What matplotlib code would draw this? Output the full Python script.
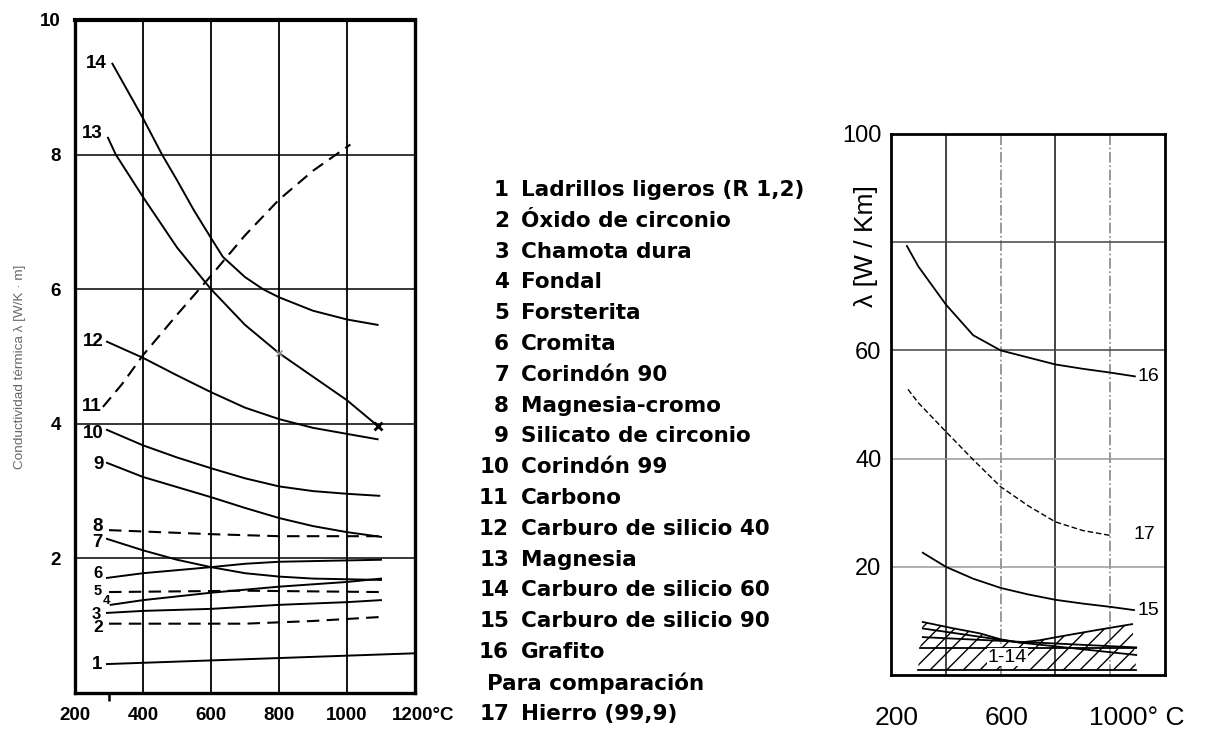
import numpy as np
import matplotlib
matplotlib.use("Agg")
import matplotlib.pyplot as plt
import matplotlib.transforms as mtransforms

# ---- left chart data: thermal conductivity of refractories, W/(K m) ----
c1_x = [294, 1200]
c1_y = [0.43, 0.59]
c2_x = [300, 500, 700, 900, 1100]
c2_y = [1.03, 1.03, 1.03, 1.07, 1.13]
c3_x = [294, 400, 600, 800, 1000, 1100]
c3_y = [1.19, 1.22, 1.25, 1.31, 1.35, 1.38]
c4_x = [305, 400, 600, 800, 1000, 1100]
c4_y = [1.31, 1.38, 1.49, 1.58, 1.65, 1.70]
c5_x = [300, 700, 1100]
c5_y = [1.50, 1.52, 1.50]
c6_x = [294, 400, 600, 700, 800, 1100]
c6_y = [1.71, 1.78, 1.87, 1.92, 1.95, 1.98]
c7_x = [294, 400, 500, 600, 700, 800, 900, 1100]
c7_y = [2.29, 2.12, 1.98, 1.87, 1.78, 1.73, 1.70, 1.68]
c8_x = [300, 400, 600, 800, 1100]
c8_y = [2.42, 2.40, 2.36, 2.33, 2.33]
c9_x = [294, 400, 500, 600, 700, 800, 900, 1000, 1100]
c9_y = [3.42, 3.21, 3.06, 2.91, 2.75, 2.60, 2.48, 2.39, 2.32]
c10_x = [294, 400, 500, 600, 700, 800, 900, 1000, 1095]
c10_y = [3.91, 3.68, 3.50, 3.34, 3.19, 3.07, 3.00, 2.96, 2.93]
c11_x = [282, 340, 400, 500, 600, 700, 800, 900, 1010]
c11_y = [4.25, 4.60, 5.02, 5.62, 6.20, 6.80, 7.33, 7.76, 8.15]
c12_x = [294, 400, 500, 600, 700, 800, 900, 1000, 1090]
c12_y = [5.22, 4.98, 4.72, 4.47, 4.24, 4.07, 3.94, 3.85, 3.77]
c13_x = [297, 320, 400, 500, 600, 700, 800, 900, 1000, 1090]
c13_y = [8.25, 8.00, 7.37, 6.62, 6.00, 5.47, 5.05, 4.70, 4.35, 3.97]
c14_x = [310, 400, 456, 500, 550, 600, 635, 700, 753, 800, 900, 1000, 1090]
c14_y = [9.35, 8.54, 8.00, 7.62, 7.17, 6.76, 6.48, 6.18, 6.00, 5.88, 5.68, 5.55, 5.47]

curves = [
    ("1", c1_x, c1_y, "-"), ("2", c2_x, c2_y, "--"), ("3", c3_x, c3_y, "-"),
    ("4", c4_x, c4_y, "-"), ("5", c5_x, c5_y, "--"), ("6", c6_x, c6_y, "-"),
    ("7", c7_x, c7_y, "-"), ("8", c8_x, c8_y, "--"), ("9", c9_x, c9_y, "-"),
    ("10", c10_x, c10_y, "-"), ("11", c11_x, c11_y, "--"), ("12", c12_x, c12_y, "-"),
    ("13", c13_x, c13_y, "-"), ("14", c14_x, c14_y, "-"),
]
# curve number label positions (right edge x, centre y) and sizes
lab_x = [279, 282, 276, 303, 278, 282, 282, 282, 285, 285, 279, 285, 282, 294]
lab_y = [0.43, 0.97, 1.17, 1.36, 1.52, 1.78, 2.23, 2.47, 3.39, 3.86, 4.25, 5.23, 8.32, 9.36]
lab_fs = [13.5, 12.5, 12, 9.5, 10.5, 12, 13.5, 13.5, 13.5, 13.5, 13.5, 13.5, 13.5, 13.5]

legend_nums = [str(i) for i in range(1, 17)] + ["", "17"]
legend_names = ["Ladrillos ligeros (R 1,2)", "Óxido de circonio", "Chamota dura",
                "Fondal", "Forsterita", "Cromita", "Corindón 90", "Magnesia-cromo",
                "Silicato de circonio", "Corindón 99", "Carbono",
                "Carburo de silicio 40", "Magnesia", "Carburo de silicio 60",
                "Carburo de silicio 90", "Grafito", "Para comparación", "Hierro (99,9)"]

# ---- right chart data ----
g16_x = [258, 300, 400, 500, 600, 700, 800, 900, 1000, 1090]
g16_y = [79.3, 75.5, 68.5, 62.8, 60.0, 58.7, 57.4, 56.6, 55.9, 55.2]
f17_x = [262, 300, 400, 500, 600, 700, 800, 900, 1000]
f17_y = [52.8, 50.3, 45.0, 39.8, 34.8, 31.3, 28.3, 26.7, 25.8]
s15_x = [316, 400, 500, 600, 700, 800, 900, 1000, 1087]
s15_y = [22.6, 20.0, 17.8, 16.1, 14.9, 13.9, 13.2, 12.6, 12.0]
bandA_x = [316, 420, 524, 600, 669, 740, 815, 950, 1080]
bandA_y = [9.8, 8.7, 7.7, 6.6, 6.0, 6.4, 7.1, 8.3, 9.4]
bandB_x = [316, 669, 1095]
bandB_y = [8.6, 6.0, 3.7]
bandE_x = [316, 1095]
bandE_y = [7.0, 5.1]
bandC_x = [305, 1095]
bandC_y = [5.0, 5.0]
bandD_x = [298, 1095]
bandD_y = [0.9, 0.9]

fig = plt.figure(figsize=(12.05, 7.31), dpi=100)
fig.patch.set_facecolor("white")

# ================= left chart =================
ax = fig.add_axes([75 / 1205, 1 - 693 / 731, 340 / 1205, 673 / 731])
ax.set_xlim(200, 1200)
ax.set_ylim(0, 10)
for v in [400, 600, 800, 1000]:
    ax.axvline(v, color="black", lw=1.3, zorder=1)
for v in [2, 4, 6, 8]:
    ax.axhline(v, color="black", lw=1.1, zorder=1)
for s in ax.spines.values():
    s.set_linewidth(2.4)
ax.spines["top"].set_linewidth(3)

for (num, xs, ys, ls), lx, ly, fs in zip(curves, lab_x, lab_y, lab_fs):
    if ls == "--":
        ax.plot(xs, ys, color="black", lw=1.5, dashes=(6, 3.5), zorder=3)
    else:
        ax.plot(xs, ys, color="black", lw=1.4, zorder=3)
    ax.text(lx, ly, num, ha="right", va="center", fontsize=fs,
            family="Liberation Sans", fontweight="bold")
ax.plot([c13_x[-1]], [c13_y[-1]], marker="x", color="black", ms=6, mew=2, zorder=4)
ax.plot([800], [5.05], marker="x", color="#888888", ms=5, mew=1, zorder=4)

ax.set_xticks([200, 400, 600, 800, 1000, 1200])
ax.set_xticklabels(["200", "400", "600", "800", "1000", "1200°C"])
ax.set_yticks([2, 4, 6, 8, 10])
ax.set_yticklabels(["2", "4", "6", "8", "10"])
ax.tick_params(length=0, pad=10, labelsize=13.5)
for t in ax.get_xticklabels() + ax.get_yticklabels():
    t.set_family("Liberation Sans")
    t.set_fontweight("bold")
ax.set_xticks([300], minor=True)
ax.tick_params(which="minor", axis="x", length=6, width=1.8, direction="out")
lab = ax.get_xticklabels()[-1]
lab.set_transform(lab.get_transform() + mtransforms.ScaledTranslation(8 / 100, 0, fig.dpi_scale_trans))
fig.text(20 / 1205, 1 - 367 / 731, "Conductividad térmica λ [W/K · m]", rotation=90,
         ha="center", va="center", fontsize=9.7, color="#666666", family="Liberation Sans")

# ================= legend text =================
for i, (n, name) in enumerate(zip(legend_nums, legend_names)):
    yy = 1 - (190 + i * 30.8) / 731
    if n:
        fig.text(509 / 1205, yy, n, ha="right", va="center", fontsize=15.5,
                 fontweight="bold", family="DejaVu Sans")
        fig.text(521 / 1205, yy, name, ha="left", va="center", fontsize=15.5,
                 fontweight="bold", family="DejaVu Sans")
    else:
        fig.text(487 / 1205, yy, name, ha="left", va="center", fontsize=15.5,
                 fontweight="bold", family="DejaVu Sans")

# ================= right chart =================
ax2 = fig.add_axes([891 / 1205, 1 - 675 / 731, 274 / 1205, 541 / 731])
ax2.set_xlim(200, 1200)
ax2.set_ylim(0, 100)
for v, ls, c in [(400, "-", "#222222"), (600, "-.", "#888888"),
                 (800, "-", "#222222"), (1000, "-.", "#888888")]:
    ax2.axvline(v, color=c, lw=1.2, ls=ls, zorder=1)
for v, c in [(80, "#444444"), (60, "#444444"), (40, "#999999"), (20, "#999999")]:
    ax2.axhline(v, color=c, lw=1.1, zorder=1)
for s in ax2.spines.values():
    s.set_linewidth(2)

ax2.plot(g16_x, g16_y, color="black", lw=1.3)
ax2.plot(f17_x, f17_y, color="black", lw=1.0, dashes=(4, 2))
ax2.plot(s15_x, s15_y, color="black", lw=1.3)
band_x = np.concatenate([bandA_x, bandD_x[::-1]])
band_y = np.concatenate([bandA_y, bandD_y[::-1]])
ax2.fill(band_x, band_y, facecolor="none", edgecolor="black", hatch="//", linewidth=0)
for bx, by in [(bandA_x, bandA_y), (bandB_x, bandB_y), (bandE_x, bandE_y),
               (bandC_x, bandC_y), (bandD_x, bandD_y)]:
    ax2.plot(bx, by, color="black", lw=1.3)
ax2.text(625, 3.3, "1-14", ha="center", va="center", fontsize=14, family="Liberation Sans",
         bbox=dict(facecolor="white", edgecolor="none", pad=0.5))
ax2.text(1100, 55.2, "16", ha="left", va="center", fontsize=14, family="Liberation Sans")
ax2.text(1085, 25.9, "17", ha="left", va="center", fontsize=14, family="Liberation Sans")
ax2.text(1100, 12.0, "15", ha="left", va="center", fontsize=14, family="Liberation Sans")

ax2.set_xticks([200, 600, 1000])
ax2.set_xticklabels(["200", "600", "1000° C"])
ax2.set_yticks([20, 40, 60, 100])
ax2.set_yticklabels(["20", "40", "60", "100"])
ax2.tick_params(axis="x", length=0, pad=22, labelsize=19)
ax2.tick_params(axis="y", length=0, pad=7, labelsize=17)
for t in ax2.get_xticklabels() + ax2.get_yticklabels():
    t.set_family("Liberation Sans")
for t in ax2.get_xticklabels()[:2]:
    t.set_transform(t.get_transform() + mtransforms.ScaledTranslation(6 / 100, 0, fig.dpi_scale_trans))
last = ax2.get_xticklabels()[-1]
last.set_ha("left")
last.set_transform(last.get_transform() + mtransforms.ScaledTranslation(-21 / 100, 0, fig.dpi_scale_trans))
fig.text(866 / 1205, 1 - 246 / 731, "λ [W / Km]", rotation=90, ha="center", va="center",
         fontsize=19, family="Liberation Sans")

fig.savefig("out.png", dpi=100, facecolor="white")
